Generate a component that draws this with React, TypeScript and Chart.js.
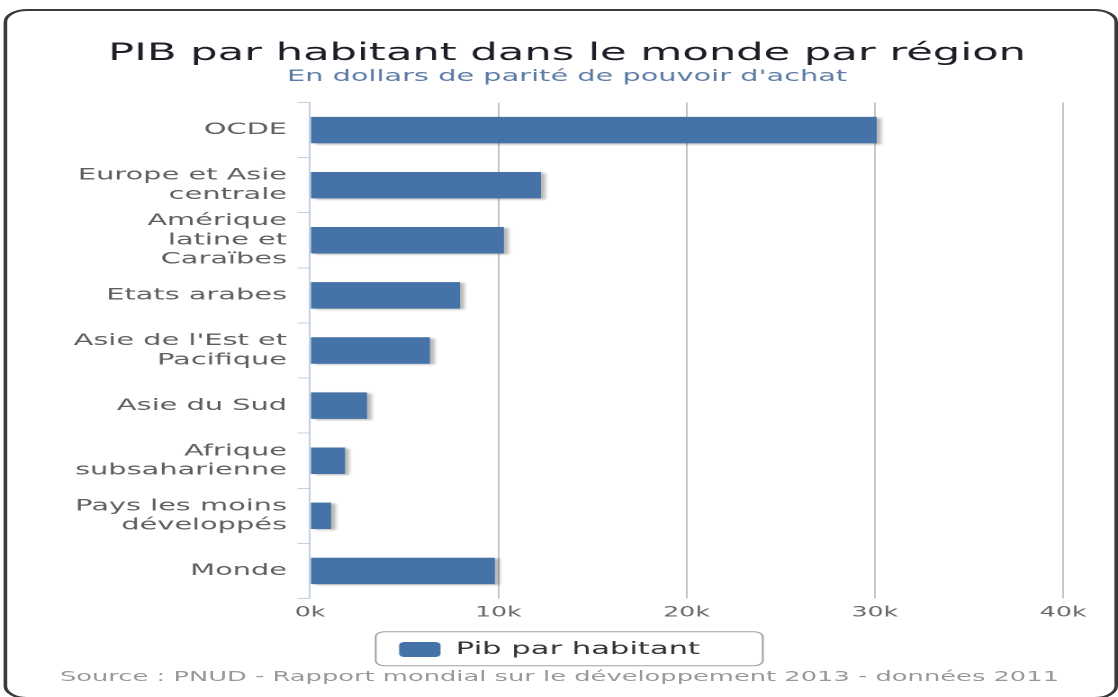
import React, { useEffect, useRef } from 'react';
import { Chart, registerables } from 'chart.js';

Chart.register(...registerables);

// ---- data ----
const categories: (string | string[])[] = [
  'OCDE',
  ['Europe et Asie', 'centrale'],
  ['Amérique', 'latine et', 'Caraïbes'],
  'Etats arabes',
  ["Asie de l'Est et", 'Pacifique'],
  'Asie du Sud',
  ['Afrique', 'subsaharienne'],
  ['Pays les moins', 'développés'],
  'Monde',
];
const pibValues = [30100, 12270, 10300, 7970, 6370, 3030, 1860, 1120, 9820];
const xTickValues = [0, 10000, 20000, 30000, 40000];
const seriesName = 'Pib par habitant';
const titleText = 'PIB par habitant dans le monde par région';
const subtitleText = "En dollars de parité de pouvoir d'achat";
const sourceText = 'Source : PNUD - Rapport mondial sur le développement 2013 - données 2011';

// ---- layout (logical canvas is stretched horizontally like the reference) ----
const W = 621;
const H = 697;
const SX = 1118 / W;
const FONT = "'DejaVu Sans', Verdana, sans-serif";

export default function App() {
  const ref = useRef<HTMLCanvasElement>(null);

  useEffect(() => {
    if (!ref.current) return;

    const shadowPlugin = {
      id: 'barShadow',
      beforeDatasetDraw(chart: any) {
        const c = chart.ctx;
        c.save();
        c.shadowColor = 'rgba(0,0,0,0.28)';
        c.shadowOffsetX = 5;
        c.shadowOffsetY = 2;
        c.shadowBlur = 4;
      },
      afterDatasetDraw(chart: any) {
        chart.ctx.restore();
      },
    };

    const legendFramePlugin = {
      id: 'legendFrame',
      afterLayout(chart: any) {
        const lg = chart.legend;
        if (lg) lg.right -= 19.4;
      },
      afterDraw(chart: any) {
        const lg = chart.legend;
        const hb = lg && lg.legendHitBoxes && lg.legendHitBoxes[0];
        if (!hb) return;
        const c = chart.ctx;
        c.save();
        c.strokeStyle = '#a0a0a0';
        c.lineWidth = 1;
        const x = hb.left - 13;
        const y = hb.top - 9.3;
        c.beginPath();
        c.roundRect(x, y, 215, 34, 5);
        c.stroke();
        c.restore();
      },
    };

    const chart = new Chart(ref.current, {
      type: 'bar',
      data: {
        labels: categories,
        datasets: [
          {
            label: seriesName,
            data: pibValues,
            backgroundColor: '#4572a7',
            borderWidth: 0,
            categoryPercentage: 1,
            barPercentage: 0.48,
          },
        ],
      },
      plugins: [shadowPlugin, legendFramePlugin],
      options: {
        indexAxis: 'y',
        animation: false,
        responsive: false,
        devicePixelRatio: 2,
        layout: { padding: { left: 39.4, right: 30.5, top: 0, bottom: 29 } },
        plugins: {
          title: {
            display: true,
            text: titleText,
            color: '#1e1e28',
            font: { family: FONT, size: 24, weight: 'normal', lineHeight: 1 },
            padding: { top: 42, bottom: 0 },
          },
          subtitle: {
            display: true,
            text: subtitleText,
            color: '#5b7ba3',
            font: { family: FONT, size: 16, weight: 'normal', lineHeight: 1 },
            padding: { top: 3, bottom: 17.5 },
          },
          legend: {
            display: true,
            position: 'bottom',
            labels: {
              color: '#333',
              font: { family: FONT, size: 17 },
              boxWidth: 23,
              boxHeight: 15,
              useBorderRadius: true,
              borderRadius: 3,
              padding: 13.7,
            },
          },
          tooltip: { enabled: false },
        },
        scales: {
          x: {
            type: 'linear',
            position: 'bottom',
            min: xTickValues[0],
            max: xTickValues[xTickValues.length - 1],
            ticks: {
              stepSize: xTickValues[1] - xTickValues[0],
              callback: (v: any) => Number(v) / 1000 + 'k',
              color: '#666',
              font: { family: FONT, size: 14 },
              padding: 6,
            },
            grid: {
              color: (ctx: any) => (ctx.tick && ctx.tick.value === 0 ? 'rgba(0,0,0,0)' : '#c4c4c4'),
              lineWidth: 1,
              drawTicks: false,
            },
            border: { display: false },
          },
          y: {
            type: 'category',
            position: 'left',
            afterFit: (scale: any) => {
              scale.width = 132.8;
            },
            ticks: {
              autoSkip: false,
              color: '#5e5e5e',
              font: { family: FONT, size: 16, lineHeight: 1.2 },
              padding: 5.8,
            },
            grid: {
              display: true,
              drawOnChartArea: false,
              drawTicks: true,
              tickLength: 7,
              color: '#c0d0e0',
              offset: true,
            },
            border: { display: true, color: '#c0d0e0', width: 1 },
          },
        },
      },
    } as any);

    return () => chart.destroy();
  }, []);

  return (
    <div
      style={{
        position: 'fixed',
        left: 0,
        top: 0,
        width: 1118,
        height: 697,
        overflow: 'hidden',
        background: '#fff',
      }}
    >
      <div
        style={{
          position: 'absolute',
          left: 0,
          top: 0,
          width: W,
          height: H,
          transform: `scaleX(${SX})`,
          transformOrigin: '0 0',
        }}
      >
        <div
          style={{
            position: 'absolute',
            left: 2.2,
            top: 9,
            width: 619,
            height: 690,
            boxSizing: 'border-box',
            border: '2px solid #3a3a3a',
            borderRadius: 13,
          }}
        />
        <canvas ref={ref} width={W} height={H} style={{ position: 'absolute', left: 0, top: 0 }} />
        <div
          style={{
            position: 'absolute',
            left: 33.3,
            top: 668,
            fontFamily: FONT,
            fontSize: 14.3,
            lineHeight: '16px',
            color: '#999',
            whiteSpace: 'nowrap',
          }}
        >
          {sourceText}
        </div>
      </div>
    </div>
  );
}
